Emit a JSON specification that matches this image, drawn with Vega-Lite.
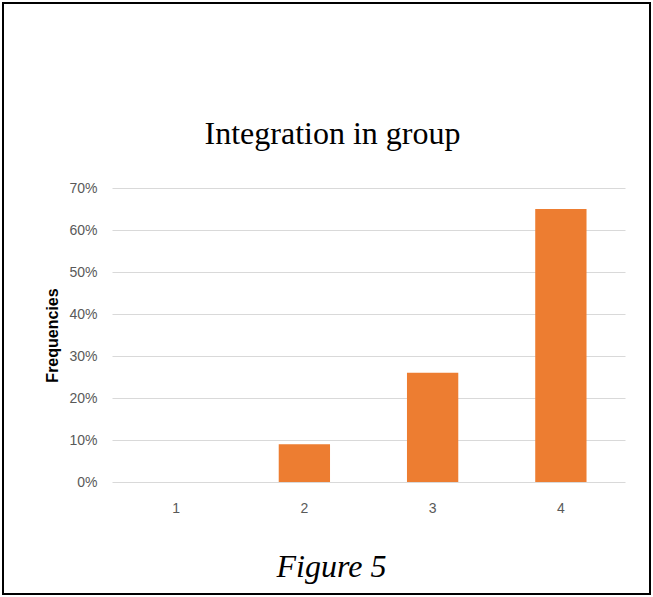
{
  "$schema": "https://vega.github.io/schema/vega-lite/v6.json",
  "width": 647,
  "height": 591,
  "autosize": {"type": "none"},
  "padding": {"left": 3, "top": 3, "right": 3, "bottom": 3},
  "background": "white",
  "config": {"view": {"stroke": "black", "strokeWidth": 2}},
  "title": {
    "text": "Integration in group",
    "font": "Liberation Serif",
    "fontSize": 32,
    "fontWeight": "normal",
    "color": "black",
    "anchor": "middle",
    "frame": "group",
    "baseline": "alphabetic",
    "offset": -173,
    "dx": 6
  },
  "data": {
    "values": [
      {"group": "1", "share": 0},
      {"group": "2", "share": 0.09},
      {"group": "3", "share": 0.26},
      {"group": "4", "share": 0.65}
    ]
  },
  "mark": {"type": "bar", "color": "#ED7D31"},
  "encoding": {
    "x": {
      "field": "group",
      "type": "ordinal",
      "scale": {"range": [109, 622], "paddingInner": 0.6, "paddingOuter": 0.3},
      "axis": {
        "offset": -112,
        "labelAngle": 0,
        "domain": false,
        "ticks": false,
        "grid": false,
        "labelPadding": 19,
        "labelFont": "Liberation Sans",
        "labelFontSize": 14,
        "labelColor": "#595959",
        "title": "Figure 5",
        "titleFont": "Liberation Serif",
        "titleFontStyle": "italic",
        "titleFontSize": 32,
        "titleFontWeight": "normal",
        "titleColor": "black",
        "titlePadding": 36,
        "titleX": 328
      }
    },
    "y": {
      "field": "share",
      "type": "quantitative",
      "scale": {"domain": [0, 0.7], "range": [479, 185], "nice": false},
      "axis": {
        "format": ".0%",
        "values": [0, 0.1, 0.2, 0.3, 0.4, 0.5, 0.6, 0.7],
        "offset": -109,
        "domain": false,
        "ticks": false,
        "labelPadding": 15,
        "labelFont": "Liberation Sans",
        "labelFontSize": 14,
        "labelColor": "#595959",
        "gridColor": "#d9d9d9",
        "gridWidth": 1,
        "title": "Frequencies",
        "titleFont": "Liberation Sans",
        "titleFontSize": 16,
        "titleFontWeight": "bold",
        "titleColor": "black",
        "titlePadding": 8
      }
    }
  }
}
